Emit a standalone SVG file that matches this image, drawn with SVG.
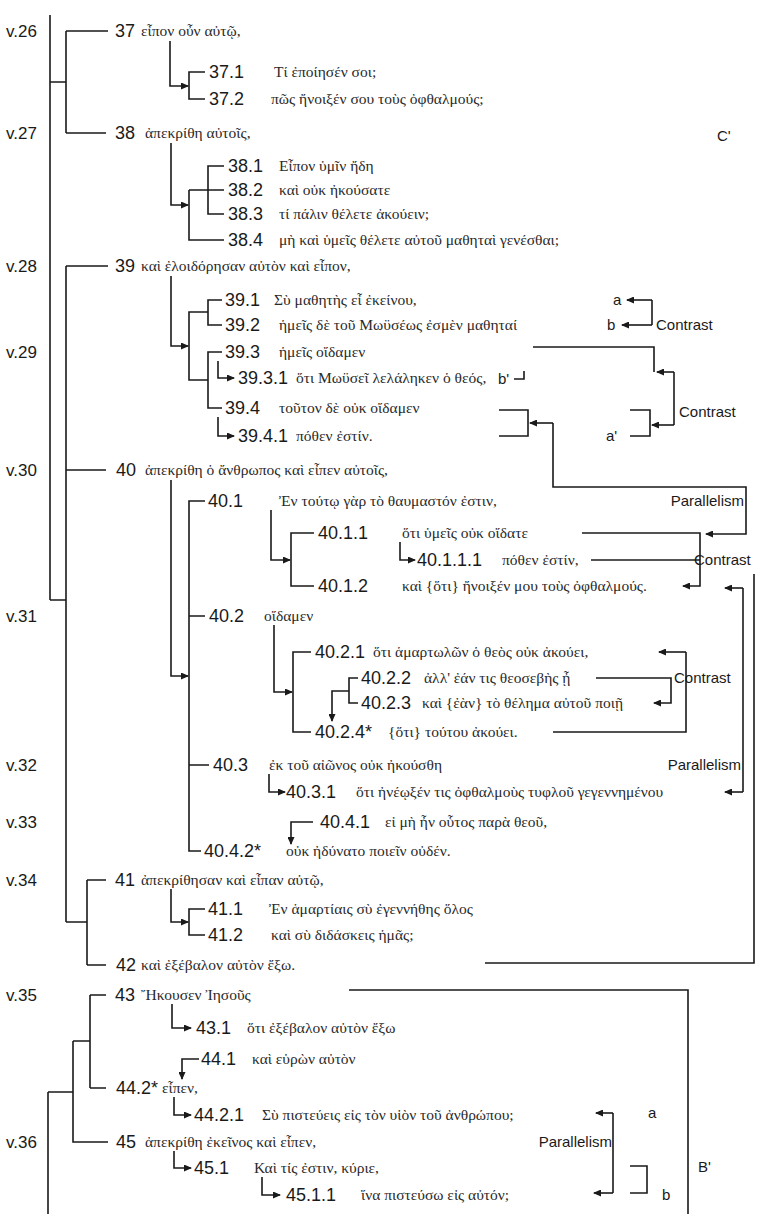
<svg xmlns="http://www.w3.org/2000/svg" width="760" height="1214" viewBox="0 0 760 1214">
<defs>
<marker id="ah" markerWidth="8" markerHeight="7" refX="7" refY="3.5" orient="auto" markerUnits="userSpaceOnUse"><path d="M0,0 L8,3.5 L0,7 z" fill="#1a1a1a"/></marker>
<style>
.n{font-family:"Liberation Sans",Arial,sans-serif;font-size:18px;fill:#1a1a1a}
.g{font-family:"Liberation Serif","DejaVu Serif",serif;font-size:15.5px;fill:#2a2a2a}
.v{font-family:"Liberation Sans",Arial,sans-serif;font-size:17px;fill:#1a1a1a}
.l{font-family:"Liberation Sans",Arial,sans-serif;font-size:15px;fill:#1a1a1a}
.c path{fill:none;stroke:#1a1a1a;stroke-width:1.6}
.c .a{marker-end:url(#ah)}
</style>
</defs>
<rect width="760" height="1214" fill="#fff"/>
<g id="verses" class="v">
<text x="6" y="37">v.26</text><text x="6" y="139">v.27</text><text x="6" y="272">v.28</text><text x="6" y="358">v.29</text><text x="6" y="476">v.30</text><text x="6" y="622">v.31</text><text x="6" y="771">v.32</text><text x="6" y="828">v.33</text><text x="6" y="886">v.34</text><text x="6" y="1001">v.35</text><text x="6" y="1148">v.36</text>
</g>
<g id="connectors" class="c">
<path d="M50,15V600M50,82H66M50,600H66"/>
<path d="M66,31V133M66,31H108M66,133H106"/>
<path d="M66,266V922M66,266H108M66,470H106M66,922H87"/>
<path d="M87,880V965M87,880H106M87,965H106"/>
<path d="M90,995V1088M90,995H106M90,1088H106M73,1041H90"/>
<path d="M73,1041V1142H108M48,1092H73M48,1092V1214"/>
<path class="a" d="M170,41V86H188"/><path d="M205,72H189V99H205"/>
<path class="a" d="M171,143V205H188"/><path d="M224,166H208V214H224M189,190H224M189,190V240H224"/>
<path class="a" d="M171,276V346H188"/><path d="M222,300H208V325H222M222,352H208V408H222M208,312H189V380H208"/>
<path class="a" d="M218,361V378H234"/><path class="a" d="M218,417V436H234"/>
<path class="a" d="M171,480V676H188"/><path d="M205,501H189V851H201M189,616H205M189,765H209"/>
<path class="a" d="M271,510V560H290"/><path d="M314,533H291V586H314"/>
<path class="a" d="M400,542V560H415"/>
<path class="a" d="M274,625V692H292"/><path d="M311,652H293V732H311"/>
<path d="M358,678H349V703H358"/><path class="a" d="M349,691H332V721"/>
<path class="a" d="M269,774V792H285"/>
<path class="a" d="M313,822H291V844"/>
<path class="a" d="M171,889V922H188"/><path d="M205,909H189V935H205"/>
<path class="a" d="M172,1004V1028H191"/>
<path class="a" d="M199,1059H182V1079"/>
<path class="a" d="M174,1097V1115H191"/>
<path class="a" d="M174,1151V1168H191"/>
<path class="a" d="M262,1177V1195H280"/>
<path d="M652,300V325"/><path class="a" d="M652,300H627"/><path class="a" d="M652,325H622"/>
<path d="M533,347H654V372M514,379H524V371"/>
<path d="M674,372V425"/><path class="a" d="M674,372H657"/><path class="a" d="M674,425H652"/>
<path d="M630,410H650V436H630"/>
<path d="M499,410H528V436H499"/><path class="a" d="M553,423H530"/><path class="a" d="M553,423V487H746V534H706"/>
<path class="a" d="M582,533H700V586H683"/><path d="M591,560H700"/>
<path d="M743,588V792"/><path class="a" d="M743,588H725"/><path class="a" d="M743,792H725"/>
<path d="M686,652V732H553"/><path class="a" d="M686,652H659"/><path class="a" d="M596,678H671V703H654"/>
<path d="M754,574V963H485"/>
<path d="M349,990H688V1214"/>
<path d="M613,1113V1193"/><path class="a" d="M613,1113H596"/><path class="a" d="M613,1193H594"/>
<path d="M630,1166H647V1193H630"/>
</g>
<g id="n37"><text class="n" x="115" y="37">37</text><text class="g" x="141" y="36">εἶπον οὖν αὐτῷ,</text></g>
<g id="n37_1"><text class="n" x="209" y="78">37.1</text><text class="g" x="274" y="77">Τί ἐποίησέν σοι;</text></g>
<g id="n37_2"><text class="n" x="209" y="105">37.2</text><text class="g" x="271" y="104">πῶς ἤνοιξέν σου τοὺς ὀφθαλμούς;</text></g>
<g id="n38"><text class="n" x="115" y="139">38</text><text class="g" x="145" y="138">ἀπεκρίθη αὐτοῖς,</text></g>
<g id="n38_1"><text class="n" x="228" y="172">38.1</text><text class="g" x="279" y="171">Εἶπον ὑμῖν ἤδη</text></g>
<g id="n38_2"><text class="n" x="228" y="196">38.2</text><text class="g" x="279" y="195">καὶ οὐκ ἠκούσατε</text></g>
<g id="n38_3"><text class="n" x="228" y="220">38.3</text><text class="g" x="279" y="219">τί πάλιν θέλετε ἀκούειν;</text></g>
<g id="n38_4"><text class="n" x="228" y="246">38.4</text><text class="g" x="279" y="245">μὴ καὶ ὑμεῖς θέλετε αὐτοῦ μαθηταὶ γενέσθαι;</text></g>
<g id="n39"><text class="n" x="115" y="272">39</text><text class="g" x="141" y="271">καὶ ἐλοιδόρησαν αὐτὸν καὶ εἶπον,</text></g>
<g id="n39_1"><text class="n" x="225" y="306">39.1</text><text class="g" x="274" y="305">Σὺ μαθητὴς εἶ ἐκείνου,</text></g>
<g id="n39_2"><text class="n" x="225" y="331">39.2</text><text class="g" x="279" y="330">ἡμεῖς δὲ τοῦ Μωϋσέως ἐσμὲν μαθηταί</text></g>
<g id="n39_3"><text class="n" x="225" y="358">39.3</text><text class="g" x="279" y="357">ἡμεῖς οἴδαμεν</text></g>
<g id="n39_3_1"><text class="n" x="238" y="384">39.3.1</text><text class="g" x="296" y="383">ὅτι Μωϋσεῖ λελάληκεν ὁ θεός,</text></g>
<g id="n39_4"><text class="n" x="225" y="414">39.4</text><text class="g" x="279" y="413">τοῦτον δὲ οὐκ οἴδαμεν</text></g>
<g id="n39_4_1"><text class="n" x="238" y="442">39.4.1</text><text class="g" x="296" y="441">πόθεν ἐστίν.</text></g>
<g id="n40"><text class="n" x="116" y="476">40</text><text class="g" x="145" y="475">ἀπεκρίθη ὁ ἄνθρωπος καὶ εἶπεν αὐτοῖς,</text></g>
<g id="n40_1"><text class="n" x="208" y="507">40.1</text><text class="g" x="279" y="506">Ἐν τούτῳ γὰρ τὸ θαυμαστόν ἐστιν,</text></g>
<g id="n40_1_1"><text class="n" x="318" y="539">40.1.1</text><text class="g" x="402" y="538">ὅτι ὑμεῖς οὐκ οἴδατε</text></g>
<g id="n40_1_1_1"><text class="n" x="417" y="566">40.1.1.1</text><text class="g" x="502" y="565">πόθεν ἐστίν,</text></g>
<g id="n40_1_2"><text class="n" x="318" y="592">40.1.2</text><text class="g" x="402" y="591">καὶ {ὅτι} ἤνοιξέν μου τοὺς ὀφθαλμούς.</text></g>
<g id="n40_2"><text class="n" x="209" y="622">40.2</text><text class="g" x="264" y="621">οἴδαμεν</text></g>
<g id="n40_2_1"><text class="n" x="315" y="658">40.2.1</text><text class="g" x="373" y="657">ὅτι ἁμαρτωλῶν ὁ θεὸς οὐκ ἀκούει,</text></g>
<g id="n40_2_2"><text class="n" x="361" y="684">40.2.2</text><text class="g" x="424" y="683">ἀλλ' ἐάν τις θεοσεβὴς ᾖ</text></g>
<g id="n40_2_3"><text class="n" x="361" y="709">40.2.3</text><text class="g" x="422" y="708">καὶ {ἐὰν} τὸ θέλημα αὐτοῦ ποιῇ</text></g>
<g id="n40_2_4"><text class="n" x="315" y="738">40.2.4*</text><text class="g" x="388" y="737">{ὅτι} τούτου ἀκούει.</text></g>
<g id="n40_3"><text class="n" x="213" y="771">40.3</text><text class="g" x="269" y="770">ἐκ τοῦ αἰῶνος οὐκ ἠκούσθη</text></g>
<g id="n40_3_1"><text class="n" x="286" y="798">40.3.1</text><text class="g" x="356" y="797">ὅτι ἠνέῳξέν τις ὀφθαλμοὺς τυφλοῦ γεγεννημένου</text></g>
<g id="n40_4_1"><text class="n" x="320" y="828">40.4.1</text><text class="g" x="385" y="827">εἰ μὴ ἦν οὗτος παρὰ θεοῦ,</text></g>
<g id="n40_4_2"><text class="n" x="204" y="857">40.4.2*</text><text class="g" x="286" y="856">οὐκ ἠδύνατο ποιεῖν οὐδέν.</text></g>
<g id="n41"><text class="n" x="115" y="886">41</text><text class="g" x="141" y="885">ἀπεκρίθησαν καὶ εἶπαν αὐτῷ,</text></g>
<g id="n41_1"><text class="n" x="208" y="915">41.1</text><text class="g" x="269" y="914">Ἐν ἁμαρτίαις σὺ ἐγεννήθης ὅλος</text></g>
<g id="n41_2"><text class="n" x="208" y="941">41.2</text><text class="g" x="271" y="940">καὶ σὺ διδάσκεις ἡμᾶς;</text></g>
<g id="n42"><text class="n" x="116" y="971">42</text><text class="g" x="141" y="970">καὶ ἐξέβαλον αὐτὸν ἔξω.</text></g>
<g id="n43"><text class="n" x="115" y="1001">43</text><text class="g" x="141" y="1000">Ἤκουσεν Ἰησοῦς</text></g>
<g id="n43_1"><text class="n" x="196" y="1034">43.1</text><text class="g" x="247" y="1033">ὅτι ἐξέβαλον αὐτὸν ἔξω</text></g>
<g id="n44_1"><text class="n" x="201" y="1065">44.1</text><text class="g" x="252" y="1064">καὶ εὑρὼν αὐτὸν</text></g>
<g id="n44_2"><text class="n" x="116" y="1094">44.2*</text><text class="g" x="162" y="1093">εἶπεν,</text></g>
<g id="n44_2_1"><text class="n" x="194" y="1121">44.2.1</text><text class="g" x="262" y="1120">Σὺ πιστεύεις εἰς τὸν υἱὸν τοῦ ἀνθρώπου;</text></g>
<g id="n45"><text class="n" x="116" y="1148">45</text><text class="g" x="145" y="1147">ἀπεκρίθη ἐκεῖνος καὶ εἶπεν,</text></g>
<g id="n45_1"><text class="n" x="194" y="1174">45.1</text><text class="g" x="254" y="1173">Καὶ τίς ἐστιν, κύριε,</text></g>
<g id="n45_1_1"><text class="n" x="286" y="1201">45.1.1</text><text class="g" x="361" y="1200">ἵνα πιστεύσω εἰς αὐτόν;</text></g>
<g id="labels" class="l">
<text x="717" y="141">C'</text>
<text x="613" y="305">a</text><text x="607" y="330">b</text><text x="656" y="330">Contrast</text>
<text x="498" y="384">b'</text>
<text x="606" y="441">a'</text><text x="679" y="417">Contrast</text>
<text x="744" y="506" text-anchor="end">Parallelism</text>
<text x="694" y="565">Contrast</text>
<text x="674" y="683">Contrast</text>
<text x="741" y="770" text-anchor="end">Parallelism</text>
<text x="612" y="1147" text-anchor="end">Parallelism</text>
<text x="648" y="1118">a</text><text x="662" y="1200">b</text><text x="698" y="1172">B'</text>
</g>
</svg>
